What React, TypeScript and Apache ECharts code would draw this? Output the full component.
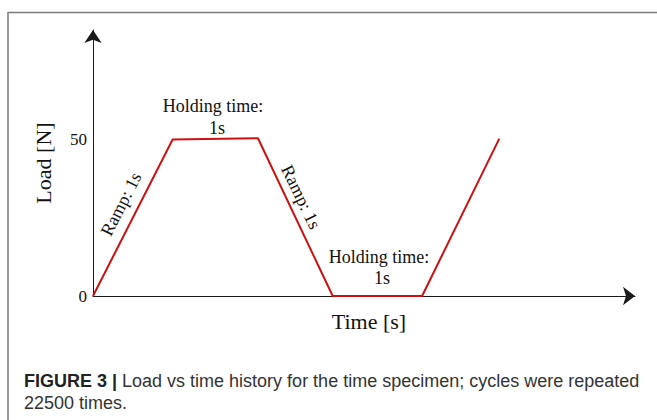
import React, { useEffect, useRef } from "react";
import * as echarts from "echarts";

const timeValues = [0, 0.98, 2.03, 2.95, 4.05, 5.0];
const loadValues = [0, 50, 50.4, 0, 0, 50.3];
const yTickValues = [0, 50];
const yAxisName = "Load [N]";
const xAxisName = "Time [s]";
const captionBold = "FIGURE 3 |";
const captionLine1 = " Load vs time history for the time specimen; cycles were repeated";
const captionLine2 = "22500 times.";

const SERIF = "'Liberation Serif', 'Times New Roman', serif";
const SANS = "'Liberation Sans', Arial, Helvetica, sans-serif";

export default function App() {
  const ref = useRef<HTMLDivElement>(null);
  useEffect(() => {
    if (!ref.current) return;
    const chart = echarts.init(ref.current, null, { renderer: "svg" });
    const data = timeValues.map((t, i) => [t, loadValues[i]]);
    chart.setOption({
      animation: false,
      backgroundColor: "#ffffff",
      grid: { left: 93, right: 22, top: 30, bottom: 124, containLabel: false },
      xAxis: {
        type: "value",
        min: 0,
        max: 6.67,
        name: xAxisName,
        nameLocation: "middle",
        nameGap: 14,
        nameTextStyle: { fontFamily: SERIF, fontSize: 22, color: "#111", padding: [0, 0, 0, 10] },
        axisLine: { show: true, symbol: ["none", "arrow"], symbolSize: [14, 12], lineStyle: { color: "#1a1a1a", width: 1 } },
        axisTick: { show: false },
        axisLabel: { show: false },
        splitLine: { show: false },
      },
      yAxis: {
        type: "value",
        min: 0,
        max: 85,
        interval: 50,
        name: yAxisName,
        nameLocation: "middle",
        nameGap: 39,
        nameRotate: 90,
        nameTextStyle: { fontFamily: SERIF, fontSize: 22, color: "#111" },
        axisLine: { show: true, onZero: false, symbol: ["none", "arrow"], symbolSize: [13, 13], lineStyle: { color: "#1a1a1a", width: 1 } },
        axisTick: { show: false },
        axisLabel: {
          margin: 6,
          fontFamily: SERIF,
          fontSize: 17,
          color: "#111",
          formatter: (v: number) => (yTickValues.includes(v) ? String(v) : ""),
        },
        splitLine: { show: false },
      },
      series: [
        {
          type: "line",
          data,
          symbol: "none",
          clip: false,
          lineStyle: { color: "#d01010", width: 2 },
          z: 3,
        },
      ],
      graphic: [
        { type: "line", shape: { x1: 8, y1: 12.5, x2: 657, y2: 12.5 }, style: { stroke: "#7a7a7a", lineWidth: 1.5 } },
        { type: "line", shape: { x1: 8, y1: 12, x2: 8, y2: 420 }, style: { stroke: "#7a7a7a", lineWidth: 1.5 } },
        { type: "text", x: 213, y: 106, style: { text: "Holding time:", font: `18px ${SERIF}`, fill: "#111", align: "center", verticalAlign: "middle" } },
        { type: "text", x: 217, y: 128, style: { text: "1s", font: `18px ${SERIF}`, fill: "#111", align: "center", verticalAlign: "middle" } },
        { type: "text", x: 379, y: 257, style: { text: "Holding time:", font: `18px ${SERIF}`, fill: "#111", align: "center", verticalAlign: "middle" } },
        { type: "text", x: 382, y: 278, style: { text: "1s", font: `18px ${SERIF}`, fill: "#111", align: "center", verticalAlign: "middle" } },
        { type: "text", x: 121, y: 204, rotation: 1.097, style: { text: "Ramp: 1s", font: `18px ${SERIF}`, fill: "#111", align: "center", verticalAlign: "middle" } },
        { type: "text", x: 301, y: 197, rotation: -1.12, style: { text: "Ramp: 1s", font: `18px ${SERIF}`, fill: "#111", align: "center", verticalAlign: "middle" } },
        {
          type: "text",
          x: 24,
          y: 381,
          style: {
            text: `{b|${captionBold}}{r|${captionLine1}}`,
            verticalAlign: "middle",
            rich: {
              b: { font: `bold 18px ${SANS}`, fill: "#222" },
              r: { font: `18px ${SANS}`, fill: "#333" },
            },
          },
        },
        { type: "text", x: 24, y: 403, style: { text: captionLine2, font: `18px ${SANS}`, fill: "#333", verticalAlign: "middle" } },
      ],
    });
    return () => chart.dispose();
  }, []);
  return <div ref={ref} style={{ position: "absolute", left: 0, top: 0, width: 657, height: 420 }} />;
}
